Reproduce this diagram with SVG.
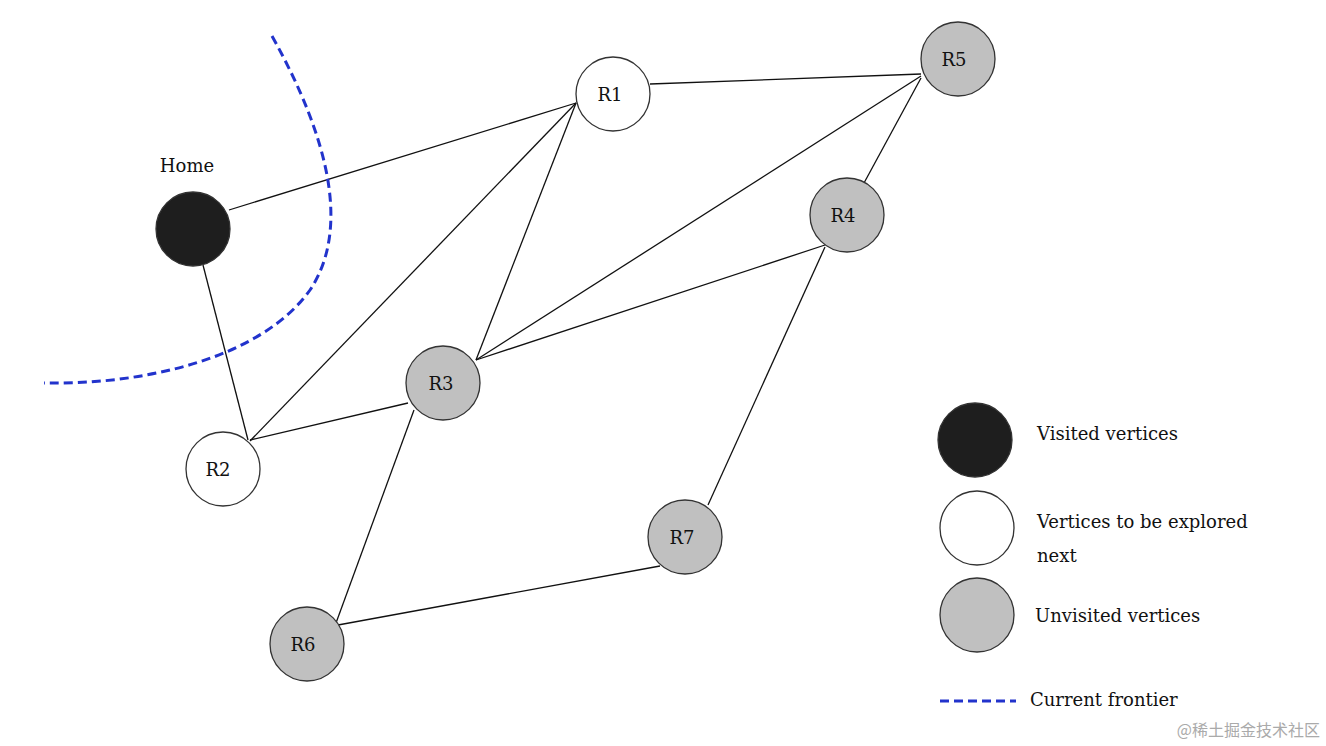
<svg xmlns="http://www.w3.org/2000/svg" width="1326" height="746" viewBox="0 0 1326 746">
<style>
.n{stroke:#333;stroke-width:1.3}
.v{fill:#1e1e1e}.w{fill:#fff}.g{fill:#c0c0c0}
text{font-family:"DejaVu Serif",serif;font-size:18px;fill:#111}
.e line{stroke:#111;stroke-width:1.3}
</style>
<rect width="1326" height="746" fill="#fff"/>
<g class="e" id="edges">
<line x1="229" y1="210" x2="576" y2="103"/>
<line x1="203" y1="265" x2="248" y2="440"/>
<line x1="250" y1="441" x2="576" y2="103"/>
<line x1="250" y1="440" x2="408" y2="403"/>
<line x1="576" y1="103" x2="476" y2="360"/>
<line x1="650" y1="84" x2="921" y2="74"/>
<line x1="921" y1="76" x2="476" y2="360"/>
<line x1="921" y1="78" x2="864" y2="183"/>
<line x1="476" y1="360" x2="825" y2="245"/>
<line x1="825" y1="247" x2="708" y2="505"/>
<line x1="414" y1="410" x2="336" y2="623"/>
<line x1="338" y1="625" x2="660" y2="566"/>
</g>
<path id="frontier" d="M272,36 C330,140 350,230 310,290 C260,360 140,385 44,383" fill="none" stroke="#2233cc" stroke-width="3" stroke-dasharray="9,5"/>
<g id="home"><circle class="n v" cx="193" cy="229" r="37"/><text x="187" y="172" text-anchor="middle">Home</text></g>
<g id="r1"><circle class="n w" cx="613" cy="94" r="37"/><text x="610" y="101" text-anchor="middle">R1</text></g>
<g id="r5"><circle class="n g" cx="958" cy="59" r="37"/><text x="954" y="66" text-anchor="middle">R5</text></g>
<g id="r4"><circle class="n g" cx="847" cy="215" r="37"/><text x="843" y="222" text-anchor="middle">R4</text></g>
<g id="r3"><circle class="n g" cx="443" cy="383" r="37"/><text x="441" y="390" text-anchor="middle">R3</text></g>
<g id="r2"><circle class="n w" cx="223" cy="469" r="37"/><text x="218" y="476" text-anchor="middle">R2</text></g>
<g id="r7"><circle class="n g" cx="685" cy="537" r="37"/><text x="682" y="544" text-anchor="middle">R7</text></g>
<g id="r6"><circle class="n g" cx="307" cy="644" r="37"/><text x="303" y="651" text-anchor="middle">R6</text></g>
<g id="legend">
<circle class="n v" cx="975" cy="440" r="37"/><text x="1037" y="440">Visited vertices</text>
<circle class="n w" cx="977" cy="528" r="37"/><text x="1037" y="528">Vertices to be explored</text><text x="1037" y="562">next</text>
<circle class="n g" cx="977" cy="615" r="37"/><text x="1035" y="622">Unvisited vertices</text>
<line x1="940" y1="701" x2="1016" y2="701" stroke="#2233cc" stroke-width="3" stroke-dasharray="9,5"/>
<text x="1030" y="706">Current frontier</text>
</g>
<text x="1320" y="736" text-anchor="end" style="font-family:'Noto Sans CJK SC',sans-serif;font-size:16px;fill:#aaa">@稀土掘金技术社区</text>
</svg>
